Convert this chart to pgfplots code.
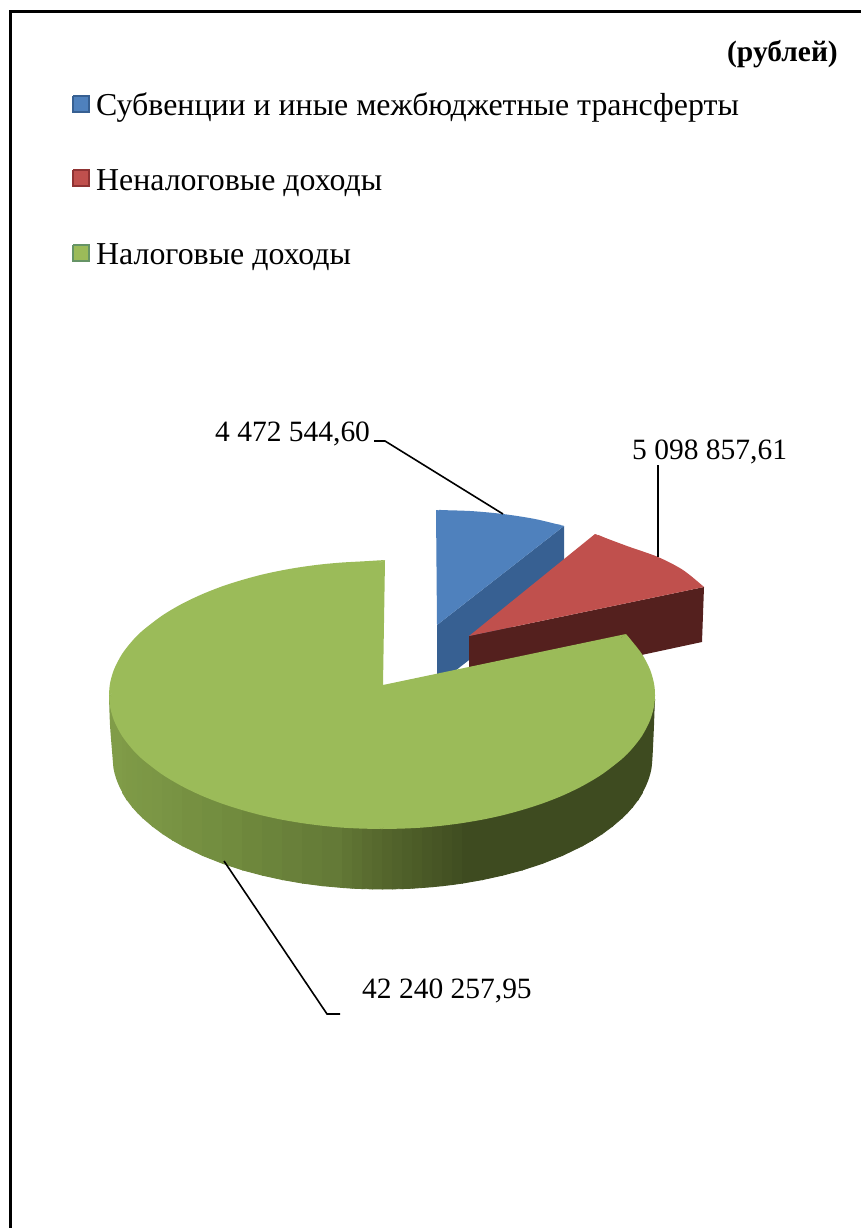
\documentclass[border=0pt]{standalone}
\usepackage{fontspec}
\setmainfont{Liberation Serif}
\usepackage{pgfplots}
\pgfplotsset{compat=1.18}
\newcommand\strip[7]{\addplot[draw={rgb,255:red,#5;green,#6;blue,#7},fill={rgb,255:red,#5;green,#6;blue,#7},line width=0.9bp] coordinates {(#1,690)(#3,690)(#3,#4)(#1,#2)(#1,690)};}
\definecolor{blueT}{RGB}{79,129,189}
\definecolor{blueS}{RGB}{55,96,146}
\definecolor{redT}{RGB}{192,80,77}
\definecolor{redS}{RGB}{84,32,30}
\definecolor{greenT}{RGB}{155,187,89}
\definecolor{sideL}{RGB}{128,156,72}
\definecolor{sideR}{RGB}{62,75,32}
\newcommand\lab[3]{\node[anchor=base west,inner sep=0pt,font=\fontsize{#3}{#3}\selectfont] at (axis cs:#1) {#2};}
\begin{document}
\begin{tikzpicture}
\useasboundingbox (0,0) rectangle (861bp,1228bp);
\begin{axis}[at={(0,0)},anchor=south west,width=861bp,height=1228bp,scale only axis,hide axis,
  xmin=0,xmax=861,ymin=0,ymax=1228,y dir=reverse,clip=false,no markers]
% frame
\addplot[black,line width=2.2bp] coordinates {(10.5,1228)(10.5,11.5)(861,11.5)};
% legend keys
\addplot[fill=blueT,draw=blueS,line width=1.2bp] coordinates {(73,96)(89,96)(89,112)(73,112)(73,96)};
\addplot[fill=redT,draw=red!45!black!80,line width=1.2bp] coordinates {(73,170)(89,170)(89,186)(73,186)(73,170)};
\addplot[fill=greenT,draw=green!30!black!60,line width=1.2bp] coordinates {(73,245)(89,245)(89,261)(73,261)(73,245)};
% blue slice
\addplot[fill=blueS,draw=none] coordinates {(437,625)(564,526)(564,586)(437,685)(437,625)};
\addplot[fill=blueT,draw=none] coordinates {(436,510)(564,526)(437,625)(436,510)};
\addplot[fill=blueT,draw=none,smooth] coordinates {(436,510)(470,511)(503,514)(535,519)(564,526)};
\addplot[draw=blueT,line width=1.3bp] coordinates {(439,510.4)(561,525.6)};
% red slice
\addplot[fill=redS,draw=none] coordinates {(469,636)(704,587)(702,642)(469,692)(469,636)};
\addplot[fill=redT,draw=none] coordinates {(469,636)(595,534)(704,587)(469,636)};
\addplot[fill=redT,draw=none,smooth] coordinates {(595,534)(627,546)(658,557)(683,570)(704,587)};
\addplot[draw=redT,line width=1.3bp] coordinates {(598,535.5)(701,585.5)};
% green side, strips
\addplot[fill=sideL,draw=none,smooth] coordinates {(109,695)(110,725)(112.5,757)(113.5,768.4)(114.5,773)(116.5,779.6)(119.5,786.9)(122.5,792.6)};
\addplot[fill=sideL,draw=none] coordinates {(109,695)(122.5,792.6)(122.5,690)(109,695)};
\addplot[draw=sideL,line width=1.3bp] coordinates {(110,702)(122,789)};
\strip{122.5}{792.6}{126.5}{799}{127}{154}{71}
\strip{126.5}{799}{132.5}{806.9}{126}{153}{70}
\strip{132.5}{806.9}{137.5}{812.5}{125}{153}{70}
\strip{137.5}{812.5}{142.5}{817.5}{124}{152}{70}
\strip{142.5}{817.5}{152.5}{826.1}{124}{151}{69}
\strip{152.5}{826.1}{162.5}{833.5}{123}{150}{69}
\strip{162.5}{833.5}{172.5}{840}{121}{148}{68}
\strip{172.5}{840}{182.5}{845.7}{120}{147}{67}
\strip{182.5}{845.7}{202.5}{855.4}{118}{144}{65}
\strip{202.5}{855.4}{222.5}{863.3}{115}{142}{64}
\strip{222.5}{863.3}{242.5}{869.9}{113}{139}{62}
\strip{242.5}{869.9}{262.5}{875.2}{110}{135}{60}
\strip{262.5}{875.2}{282.5}{879.6}{107}{132}{59}
\strip{282.5}{879.6}{302.5}{883.1}{105}{128}{58}
\strip{302.5}{883.1}{322.5}{885.7}{102}{125}{56}
\strip{322.5}{885.7}{342.5}{887.5}{100}{122}{55}
\strip{342.5}{887.5}{352.5}{888.2}{96}{117}{52}
\strip{352.5}{888.2}{362.5}{888.6}{93}{113}{50}
\strip{362.5}{888.6}{372.5}{888.9}{90}{108}{48}
\strip{372.5}{888.9}{382.5}{889}{87}{105}{46}
\strip{382.5}{889}{392.5}{888.9}{84}{101}{44}
\strip{392.5}{888.9}{402.5}{888.6}{81}{98}{43}
\strip{402.5}{888.6}{412.5}{888.2}{78}{95}{41}
\strip{412.5}{888.2}{422.5}{887.5}{76}{92}{39}
\strip{422.5}{887.5}{432.5}{886.7}{73}{88}{38}
\strip{432.5}{886.7}{442.5}{885.7}{71}{85}{37}
\strip{442.5}{885.7}{452.5}{884.5}{68}{82}{35}
\strip{452.5}{884.5}{462.5}{883.1}{65}{79}{34}
\strip{462.5}{883.1}{482.5}{879.6}{62}{75}{32}
\strip{482.5}{879.6}{502.5}{875.2}{62}{75}{32}
\strip{502.5}{875.2}{522.5}{869.9}{62}{75}{32}
\strip{522.5}{869.9}{542.5}{863.3}{62}{75}{32}
\strip{542.5}{863.3}{562.5}{855.4}{62}{75}{32}
\strip{562.5}{855.4}{582.5}{845.7}{62}{75}{32}
\strip{582.5}{845.7}{592.5}{840}{62}{75}{32}
\strip{592.5}{840}{602.5}{833.5}{62}{75}{32}
\strip{602.5}{833.5}{612.5}{826.1}{62}{75}{32}
\strip{612.5}{826.1}{622.5}{817.5}{62}{75}{32}
\strip{622.5}{817.5}{627.5}{812.5}{62}{75}{32}
\strip{627.5}{812.5}{632.5}{806.9}{62}{75}{32}
\strip{632.5}{806.9}{638.5}{799}{62}{75}{32}
\strip{638.5}{799}{642.5}{792.6}{62}{75}{32}
\addplot[fill=sideR,draw=none,smooth] coordinates {(642.5,792.6)(645.5,786.9)(648.5,779.6)(650.5,773)(651.5,768.4)(652.5,757)(654,725)(655,695)};
\addplot[fill=sideR,draw=none] coordinates {(642.5,690)(642.5,792.6)(655,695)(642.5,690)};
\addplot[draw=sideR,line width=1.3bp] coordinates {(643,789)(654.6,699)};
% green top: inner polygon, three smooth rim caps, and a stroke over the joins
\addplot[fill=greenT,draw=none] coordinates {(383,685)(626,634)(382,829)(109,695)(385,560)(383,685)};
\addplot[fill=greenT,draw=none,smooth] coordinates {(626,634)(632,641.2)(642,654.1)(650,669.5)(654,683.5)(655,695)(654,706.5)(650,720.5)(642,735.9)(632,748.8)(622,758.9)(602,774.3)(582,786.2)(562,795.8)(542,803.6)(522,810)(502,815.4)(482,819.7)(462,823.1)(442,825.7)(422,827.6)(402,828.6)(382,829)};
\addplot[fill=greenT,draw=none,smooth] coordinates {(382,829)(362,828.6)(342,827.6)(322,825.7)(302,823.1)(282,819.7)(262,815.4)(242,810)(222,803.6)(202,795.8)(182,786.2)(162,774.3)(142,758.9)(132,748.8)(122,735.9)(114,720.5)(110,706.5)(109,695)};
\addplot[fill=greenT,draw=none,smooth] coordinates {(109,695)(110,683.5)(114,669.5)(122,654.1)(132,641.2)(142,631.1)(162,615.7)(182,603.8)(202,594.3)(222,586.4)(242,580)(262,574.6)(282,570.3)(302,566.9)(322,564.3)(342,562.5)(362,561.4)(385,560)};
\addplot[draw=greenT,line width=1.4bp] coordinates {(621.1,637.9)(384.4,827.1)};
\addplot[draw=greenT,line width=1.4bp] coordinates {(379.3,827.7)(111.7,696.3)};
\addplot[draw=greenT,line width=1.4bp] coordinates {(111.8,693.6)(379.5,562.7)};
% leaders
\addplot[black,line width=1.6bp] coordinates {(374,441)(385,441)(503,514)};
\addplot[black,line width=1.6bp] coordinates {(658,465)(658,557)};
\addplot[black,line width=1.6bp] coordinates {(224,861)(327,1014)(340,1014)};
% texts
\node[anchor=base east,inner sep=0pt,font=\fontsize{29.6}{30}\selectfont\bfseries] at (axis cs:838,62) {(рублей)};
\lab{96,116}{Субвенции и иные межбюджетные трансферты}{32}
\lab{96,190.5}{Неналоговые доходы}{32}
\lab{96,264}{Налоговые доходы}{32}
\lab{215,441}{4 472 544,60}{29.6}
\lab{632,459}{5 098 857,61}{29.6}
\lab{362,998}{42 240 257,95}{29.6}
\end{axis}
\end{tikzpicture}
\end{document}
